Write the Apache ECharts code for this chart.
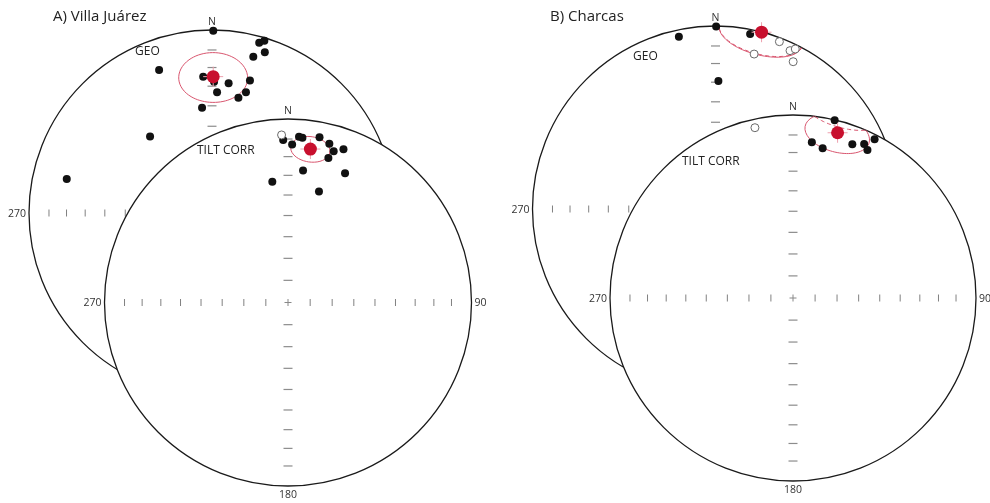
<!DOCTYPE html>
<html>
<head>
<meta charset="utf-8">
<script src="https://cdn.jsdelivr.net/npm/echarts@6/dist/echarts.min.js"></script>
<style>
  html, body { margin: 0; padding: 0; background: #fff; }
  #chart { width: 990px; height: 503px; }
</style>
</head>
<body>
<div id="chart"></div>
<script>
// Site-mean directions [declination, inclination] in degrees.
// Negative inclination = upper hemisphere (open symbol).
const villaGeoDirs = [
  [0.4, 0.5], [339.7, 17.8], [15.5, 3.9], [16.9, 1.8], [18.2, 8.4], [14.8, 12.7],
  [356.3, 26.3], [0.9, 29.0], [7.3, 29.3], [16.0, 25.7], [2.4, 34.3], [15.7, 32.0],
  [12.9, 35.6], [354.6, 41.8], [321.0, 45.3], [283.2, 19.6]
];
const villaTiltDirs = [
  [357.8, -9.5], [358.3, 12.4], [3.8, 10.4], [5.0, 10.8], [1.5, 15.0], [10.8, 9.2],
  [14.6, 11.6], [16.8, 15.0], [19.9, 12.2], [15.6, 19.3], [6.5, 28.4], [23.8, 24.0],
  [352.6, 34.0], [15.6, 37.3]
];
const charcasGeoDirs = [
  [0.2, 0.3], [348.0, 4.2], [11.2, 2.9], [1.3, 30.7],
  [20.9, -2.4], [25.2, -4.9], [26.5, -2.6], [14.0, -13.8], [27.8, -9.9]
];
const charcasTiltDirs = [
  [13.2, 0.3], [6.9, 15.4], [11.2, 17.7], [21.1, 10.9], [24.8, 8.1], [26.7, 10.4],
  [27.2, 2.8], [347.4, -5.2]
];

// Fisher means [declination, inclination, alpha95]
const villaGeoMean = [0.5, 26.4, 13];
const villaTiltMean = [8.3, 16.6, 7];
const charcasGeoMean = [14.6, 0.2, 13.5];
const charcasTiltMean = [15.1, 7.2, 11];

// Net graticule: ticks every 10 degrees along the N-S and E-W diameters
const tickIncs = [80, 70, 60, 50, 40, 30, 20, 10];
const netLabels = ['N', '90', '180', '270'];

const FONT = '"Open Sans", "Noto Sans", sans-serif';
const TICK_SCALE = 0.98;

// Lambert equal-area (Schmidt) projection, lower hemisphere, unit primitive
function project(dec, inc) {
  const colat = (90 - Math.abs(inc)) * Math.PI / 180;
  const rho = Math.SQRT2 * Math.sin(colat / 2);
  const d = dec * Math.PI / 180;
  return [rho * Math.sin(d), rho * Math.cos(d)];
}

// Trace of the alpha95 cone, split into lower (solid) and upper (dashed) runs
function coneRuns(dec, inc, a95) {
  const D = dec * Math.PI / 180, I = inc * Math.PI / 180, A = a95 * Math.PI / 180;
  const m = [Math.cos(I) * Math.cos(D), Math.cos(I) * Math.sin(D), Math.sin(I)];
  const u = [-Math.sin(I) * Math.cos(D), -Math.sin(I) * Math.sin(D), Math.cos(I)];
  const v = [-Math.sin(D), Math.cos(D), 0];
  const runs = [];
  let cur = null;
  const n = 240;
  for (let k = 0; k <= n; k++) {
    const t = 2 * Math.PI * k / n;
    const p = [0, 1, 2].map(j => Math.cos(A) * m[j] + Math.sin(A) * (Math.cos(t) * u[j] + Math.sin(t) * v[j]));
    const pi = Math.asin(Math.max(-1, Math.min(1, p[2]))) * 180 / Math.PI;
    const pd = Math.atan2(p[1], p[0]) * 180 / Math.PI;
    const lower = pi >= 0;
    if (!cur || cur.lower !== lower) {
      cur = { lower, pts: [] };
      runs.push(cur);
    }
    cur.pts.push(project(pd, pi));
  }
  return runs;
}

const nets = [
  { cx: 212,   cy: 213,   r: 183,   dirs: villaGeoDirs,    mean: villaGeoMean,    z: 2 },
  { cx: 288,   cy: 302.5, r: 183.5, dirs: villaTiltDirs,   mean: villaTiltMean,   z: 20 },
  { cx: 715.5, cy: 209,   r: 183,   dirs: charcasGeoDirs,  mean: charcasGeoMean,  z: 2 },
  { cx: 793,   cy: 298,   r: 183,   dirs: charcasTiltDirs, mean: charcasTiltMean, z: 20 }
];

const grid = [], xAxis = [], yAxis = [], series = [];

nets.forEach((net, i) => {
  grid.push({ left: net.cx - net.r, top: net.cy - net.r, width: 2 * net.r, height: 2 * net.r, containLabel: false });
  xAxis.push({ gridIndex: i, type: 'value', min: -1, max: 1, show: false });
  yAxis.push({ gridIndex: i, type: 'value', min: -1, max: 1, show: false });
  const z = net.z;

  // Primitive circle (white-filled so the tilt-corrected net covers the geographic one)
  series.push({
    type: 'custom', xAxisIndex: i, yAxisIndex: i, z: z, clip: false, silent: true,
    data: [[0, 0]],
    renderItem: (params, api) => {
      const c = api.coord([0, 0]);
      const e = api.coord([1, 0]);
      const r = e[0] - c[0];
      return {
        type: 'group',
        children: [
          { type: 'circle', shape: { cx: c[0], cy: c[1], r: r },
            style: { fill: '#fff', stroke: '#1a1a1a', lineWidth: 1.3 } },
          { type: 'line', shape: { x1: c[0] - 3.5, y1: c[1], x2: c[0] + 3.5, y2: c[1] },
            style: { stroke: '#888', lineWidth: 1 } },
          { type: 'line', shape: { x1: c[0], y1: c[1] - 3.5, x2: c[0], y2: c[1] + 3.5 },
            style: { stroke: '#888', lineWidth: 1 } }
        ]
      };
    }
  });

  // Graticule ticks
  series.push({
    type: 'custom', xAxisIndex: i, yAxisIndex: i, z: z + 1, clip: false, silent: true,
    data: tickIncs.map(t => [0, 0, t]),
    renderItem: (params, api) => {
      const inc = api.value(2);
      const rho = Math.SQRT2 * Math.sin((90 - inc) * Math.PI / 360) * TICK_SCALE;
      const n = api.coord([0, rho]), s = api.coord([0, -rho]);
      const e = api.coord([rho, 0]), w = api.coord([-rho, 0]);
      const hs = { stroke: '#8c8c8c', lineWidth: 1.2 };
      const vs = { stroke: '#808080', lineWidth: 1 };
      return {
        type: 'group',
        children: [
          { type: 'line', shape: { x1: n[0] - 4.5, y1: n[1], x2: n[0] + 4.5, y2: n[1] }, style: hs },
          { type: 'line', shape: { x1: s[0] - 4.5, y1: s[1], x2: s[0] + 4.5, y2: s[1] }, style: hs },
          { type: 'line', shape: { x1: e[0], y1: e[1] - 3.5, x2: e[0], y2: e[1] + 3.5 }, style: vs },
          { type: 'line', shape: { x1: w[0], y1: w[1] - 3.5, x2: w[0], y2: w[1] + 3.5 }, style: vs }
        ]
      };
    }
  });

  // Azimuth labels
  series.push({
    type: 'custom', xAxisIndex: i, yAxisIndex: i, z: z + 1, clip: false, silent: true,
    data: [[0, 1, 0], [1, 0, 1], [0, -1, 2], [-1, 0, 3]],
    renderItem: (params, api) => {
      const k = api.value(2);
      const p = api.coord([api.value(0), api.value(1)]);
      const cfg = [
        { dx: 0, dy: -2, a: 'center', v: 'bottom' },
        { dx: 3, dy: 1, a: 'left', v: 'middle' },
        { dx: 0, dy: 4, a: 'center', v: 'top' },
        { dx: -3, dy: 1, a: 'right', v: 'middle' }
      ][k];
      return {
        type: 'text', x: p[0] + cfg.dx, y: p[1] + cfg.dy,
        style: { text: netLabels[k], fill: '#333', font: '10.5px ' + FONT,
                 textAlign: cfg.a, textVerticalAlign: cfg.v }
      };
    }
  });

  // alpha95 cone
  coneRuns(net.mean[0], net.mean[1], net.mean[2]).forEach(run => {
    series.push({
      type: 'line', xAxisIndex: i, yAxisIndex: i, z: z + 2, silent: true, clip: false,
      symbol: 'none', smooth: false,
      data: run.pts,
      lineStyle: { color: '#d9566f', width: 1, type: run.lower ? 'solid' : [4, 3] }
    });
  });

  // Site directions
  const pts = net.dirs.map(d => ({ xy: project(d[0], d[1]), up: d[1] < 0 }));
  series.push({
    type: 'scatter', xAxisIndex: i, yAxisIndex: i, z: z + 3, silent: true,
    symbolSize: 8,
    data: pts.filter(p => !p.up).map(p => p.xy),
    itemStyle: { color: '#111', opacity: 1 }
  });
  series.push({
    type: 'scatter', xAxisIndex: i, yAxisIndex: i, z: z + 3, silent: true,
    symbolSize: 8,
    data: pts.filter(p => p.up).map(p => p.xy),
    itemStyle: { color: '#fff', borderColor: '#6a6a6a', borderWidth: 1, opacity: 1 }
  });

  // Mean direction with cross
  const mxy = project(net.mean[0], net.mean[1]);
  series.push({
    type: 'custom', xAxisIndex: i, yAxisIndex: i, z: z + 4, clip: false, silent: true,
    data: [mxy],
    renderItem: (params, api) => {
      const c = api.coord([api.value(0), api.value(1)]);
      const st = { stroke: '#eea0ae', lineWidth: 1 };
      return {
        type: 'group',
        children: [
          { type: 'line', shape: { x1: c[0] - 10, y1: c[1], x2: c[0] + 10, y2: c[1] }, style: st },
          { type: 'line', shape: { x1: c[0], y1: c[1] - 10, x2: c[0], y2: c[1] + 10 }, style: st }
        ]
      };
    }
  });
  series.push({
    type: 'scatter', xAxisIndex: i, yAxisIndex: i, z: z + 5, silent: true,
    symbolSize: 13,
    data: [mxy],
    itemStyle: { color: '#c8102e', opacity: 1 }
  });
});

const textEl = (text, x, y, size) => ({
  type: 'text', x: x, y: y, z: 100, silent: true,
  style: { text: text, fill: '#222', font: size + 'px ' + FONT, textVerticalAlign: 'middle' }
});

const option = {
  animation: false,
  backgroundColor: '#fff',
  grid: grid,
  xAxis: xAxis,
  yAxis: yAxis,
  series: series,
  graphic: [
    textEl('A) Villa Juárez', 53, 17, 15),
    textEl('B) Charcas', 550, 17, 15),
    textEl('GEO', 135, 52, 12),
    textEl('TILT CORR', 197, 151, 12),
    textEl('GEO', 633, 57, 12),
    textEl('TILT CORR', 682, 162, 12)
  ]
};

const chart = echarts.init(document.getElementById('chart'), null, { renderer: 'canvas' });
chart.setOption(option);
</script>
</body>
</html>
